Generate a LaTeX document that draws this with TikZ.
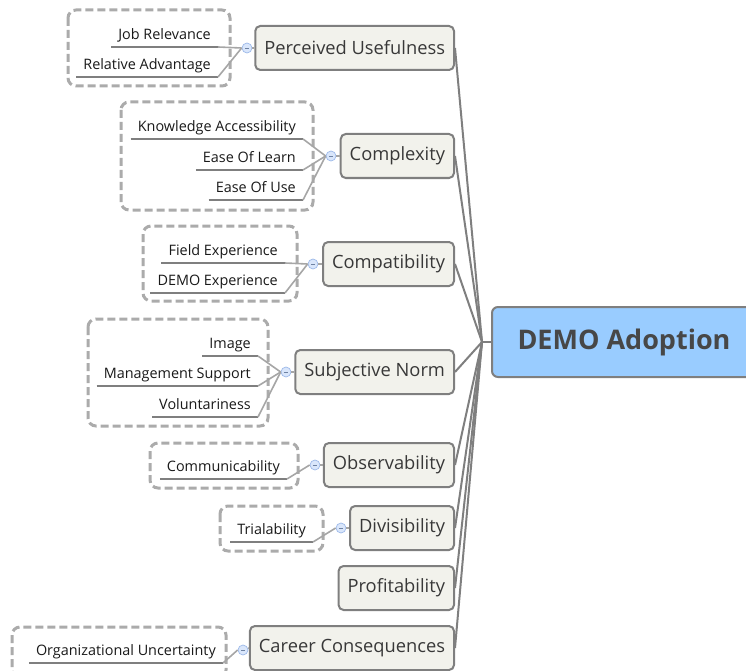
\documentclass[tikz,border=0pt]{standalone}
\usepackage{fontspec}
\setmainfont{Open Sans}
\usepackage{xcolor}
\usetikzlibrary{positioning,calc}
\definecolor{rootfill}{HTML}{99CCFF}
\definecolor{topicfill}{HTML}{F2F2EC}
\definecolor{edgegray}{HTML}{7F7F7F}
\definecolor{dashgray}{HTML}{ABABAB}
\definecolor{markfill}{HTML}{D9E6FB}
\definecolor{markdraw}{HTML}{9DB9E9}
\tikzset{
  root/.style={draw=edgegray, line width=2pt, fill=rootfill, rounded corners=6pt,
    minimum width=264pt, minimum height=70pt,
    font=\fontsize{27}{32}\selectfont\bfseries, text=black!72},
  topic/.style={draw=edgegray, line width=2pt, fill=topicfill, rounded corners=5pt,
    minimum height=44pt, inner xsep=9pt, anchor=east,
    font=\fontsize{18.3}{22}\selectfont, text=black!78},
  detail/.style={anchor=south east, inner xsep=7pt, inner ysep=4pt,
    text height=11pt, text depth=3.5pt, font=\fontsize{14.4}{17}\selectfont, text=black!90},
  marker/.style={circle, draw=markdraw, fill=markfill, line width=0.7pt,
    minimum size=10pt, inner sep=0pt,
    path picture={\draw[markdraw!70!black, line width=0.7pt]
      ($(path picture bounding box.center)+(-2.2pt,0)$) -- ($(path picture bounding box.center)+(2.2pt,0)$);}},
  grpbox/.style={draw=dashgray, dash pattern=on 8pt off 4pt, line width=3pt, rounded corners=8pt},
  link/.style={draw=edgegray, line width=2pt},
  underl/.style={draw=edgegray, line width=2pt},
  stem/.style={draw=black!35, line width=1.6pt}
}

\begin{document}
\begin{tikzpicture}[x=1pt, y=-1pt]
  \useasboundingbox (0,0) rectangle (746,671);

  % central topic
  \node[root] (adopt) at (624,342) {DEMO Adoption};
  \coordinate (hub) at (482,342);

  % main branches
  \node[topic] (pu) at (455,48) {Perceived Usefulness};
  \node[topic] (cx) at (455,156) {Complexity};
  \node[topic] (cp) at (455,264) {Compatibility};
  \node[topic] (sn) at (455,372) {Subjective Norm};
  \node[topic] (ob) at (455,465) {Observability};
  \node[topic] (dv) at (455,528) {Divisibility};
  \node[topic] (pf) at (455,588) {Profitability};
  \node[topic] (cc) at (455,648) {Career Consequences};
  \foreach \t in {pu,cx,cp,sn,ob,dv,pf,cc}
    \draw[link] (\t.east) -- (hub);
  \draw[link] (hub) -- (adopt.west);

  % perceived usefulness
  \draw[grpbox] (68,10) rectangle (230,86);
  \node[marker] (puM) at (247,48) {};
  \node[detail] (jr) at (218,47) {Job Relevance};
  \node[detail] (ra) at (218,77) {Relative Advantage};
  \foreach \n in {jr,ra} {
    \draw[underl] (\n.south west) -- (\n.south east);
    \draw[stem] (\n.south east) -- (puM.west);
  }
  \draw[stem] (puM) -- (pu.west);

  % complexity
  \draw[grpbox] (121,102) rectangle (313,210);
  \node[marker] (cxM) at (331,156) {};
  \node[detail] (ka) at (303,139) {Knowledge Accessibility};
  \node[detail] (el) at (303,170) {Ease Of Learn};
  \node[detail] (eu) at (303,200) {Ease Of Use};
  \foreach \n in {ka,el,eu} {
    \draw[underl] (\n.south west) -- (\n.south east);
    \draw[stem] (\n.south east) -- (cxM.west);
  }
  \draw[stem] (cxM) -- (cx.west);

  % compatibility
  \draw[grpbox] (143,226) rectangle (297,301);
  \node[marker] (cpM) at (313,264) {};
  \node[detail] (fe) at (285,263) {Field Experience};
  \node[detail] (de) at (285,293) {DEMO Experience};
  \foreach \n in {fe,de} {
    \draw[underl] (\n.south west) -- (\n.south east);
    \draw[stem] (\n.south east) -- (cpM.west);
  }
  \draw[stem] (cpM) -- (cp.west);

  % subjective norm
  \draw[grpbox] (88,319) rectangle (268,426);
  \node[marker] (snM) at (286,372) {};
  \node[detail] (im) at (258,356) {Image};
  \node[detail] (ms) at (258,386) {Management Support};
  \node[detail] (vo) at (258,417) {Voluntariness};
  \foreach \n in {im,ms,vo} {
    \draw[underl] (\n.south west) -- (\n.south east);
    \draw[stem] (\n.south east) -- (snM.west);
  }
  \draw[stem] (snM) -- (sn.west);

  % observability
  \draw[grpbox] (150,443) rectangle (298,488);
  \node[marker] (obM) at (315,465) {};
  \node[detail] (co) at (287,479) {Communicability};
  \draw[underl] (co.south west) -- (co.south east);
  \draw[stem] (co.south east) -- (obM.west);
  \draw[stem] (obM) -- (ob.west);

  % divisibility
  \draw[grpbox] (220,506) rectangle (323,551);
  \node[marker] (dvM) at (341,528) {};
  \node[detail] (tr) at (313,542) {Trialability};
  \draw[underl] (tr.south west) -- (tr.south east);
  \draw[stem] (tr.south east) -- (dvM.west);
  \draw[stem] (dvM) -- (dv.west);

  % career consequences
  \draw[grpbox] (12,627) rectangle (226,678);
  \node[marker] (ccM) at (243,650) {};
  \node[detail] (ou) at (223,663) {Organizational Uncertainty};
  \draw[underl] (ou.south west) -- (ou.south east);
  \draw[stem] (ou.south east) -- (ccM.west);
  \draw[stem] (ccM) -- (cc.west);
\end{tikzpicture}
\end{document}
